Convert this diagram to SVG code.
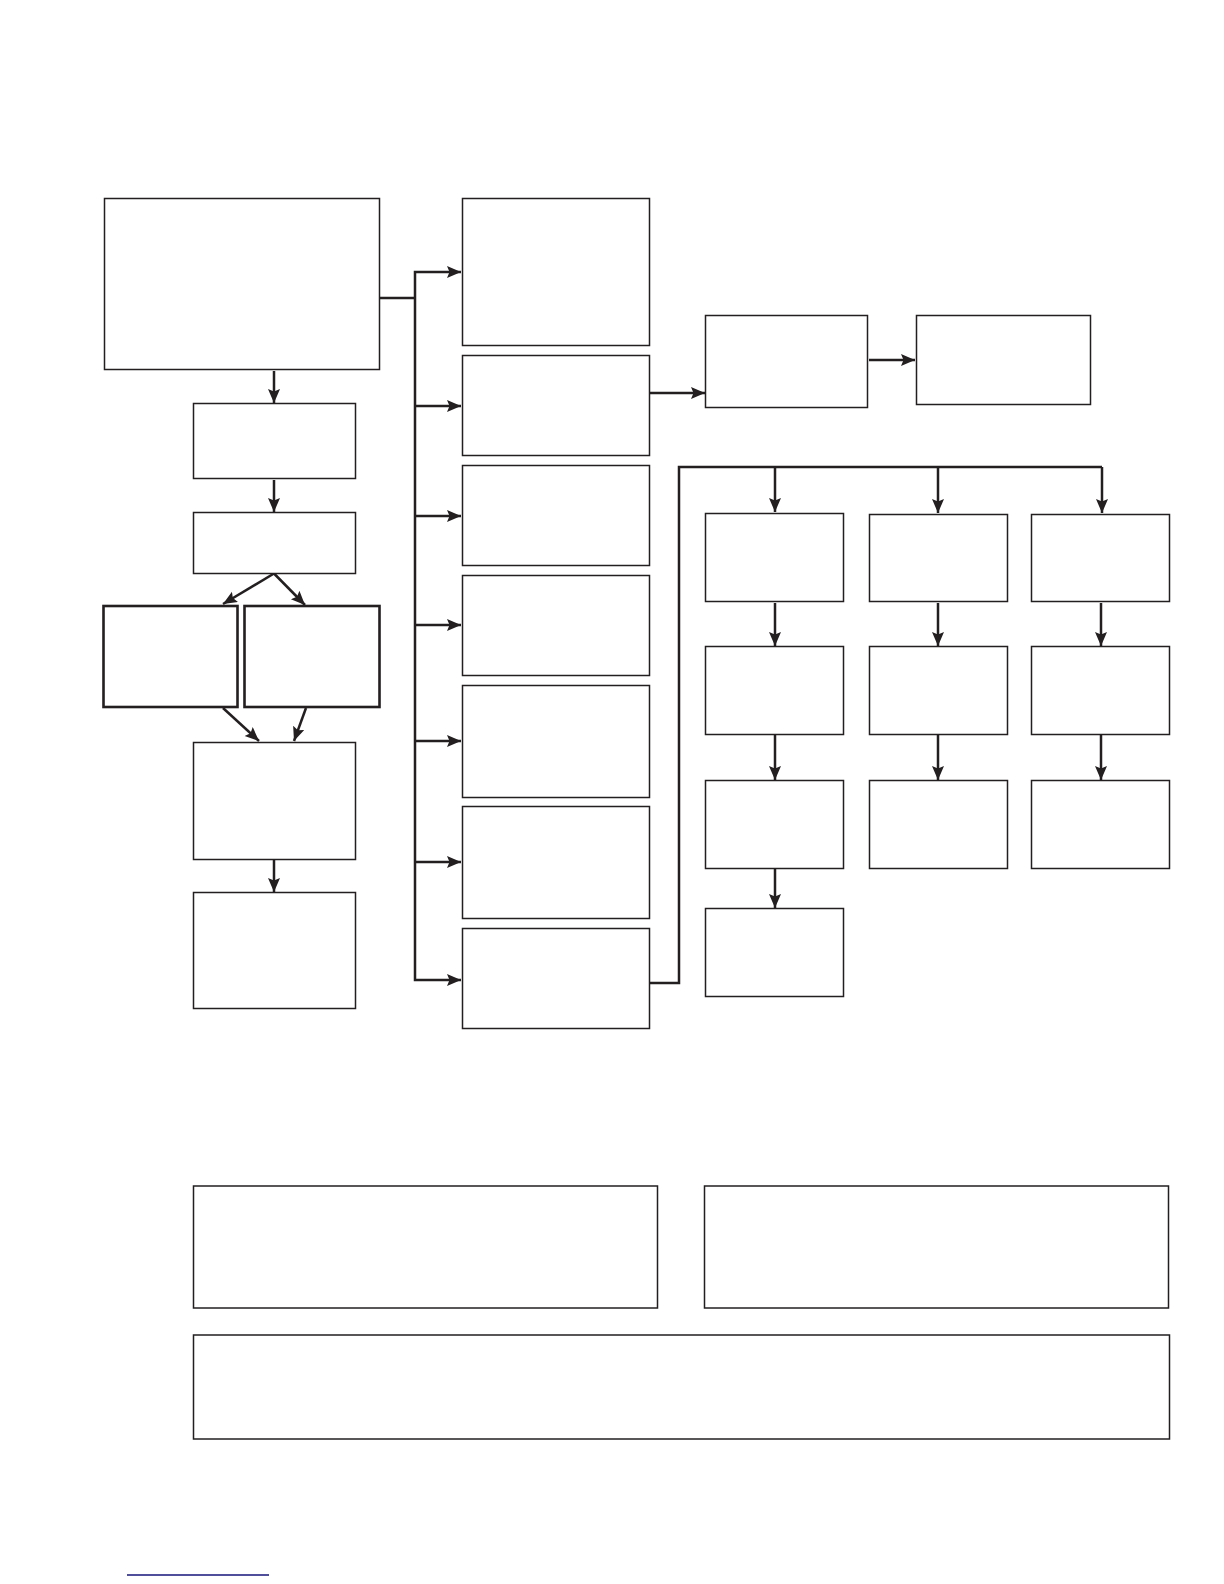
<svg xmlns="http://www.w3.org/2000/svg" width="1224" height="1584" viewBox="0 0 1224 1584">
<style>
.box{fill:#fff;stroke:#231f20;stroke-width:1.5}
.thick{stroke-width:2.6}
.c{fill:none;stroke:#231f20;stroke-width:2.5}
.a{marker-end:url(#ah)}
</style>
<defs>
<marker id="ah" markerUnits="userSpaceOnUse" markerWidth="16" markerHeight="14" refX="14" refY="6" orient="auto">
<path d="M0,0 L14,6 L0,12 L2.5,6 z" fill="#231f20"/>
</marker>
</defs>
<rect width="1224" height="1584" fill="#fff"/>
<g id="connectors">
<line class="c a" x1="274" y1="371" x2="274" y2="403"/>
<line class="c a" x1="274" y1="480" x2="274" y2="512"/>
<line class="c a" x1="274" y1="573.5" x2="223" y2="604"/>
<line class="c a" x1="274" y1="573.5" x2="305" y2="605"/>
<line class="c a" x1="223" y1="708" x2="259" y2="741"/>
<line class="c a" x1="306" y1="708" x2="294" y2="741"/>
<line class="c a" x1="274" y1="860" x2="274" y2="892"/>
<polyline class="c" points="380,298 415,298"/>
<polyline class="c a" points="415,298 415,272 461,272"/>
<polyline class="c a" points="415,298 415,980 461,980"/>
<line class="c a" x1="415" y1="406" x2="461" y2="406"/>
<line class="c a" x1="415" y1="516" x2="461" y2="516"/>
<line class="c a" x1="415" y1="625" x2="461" y2="625"/>
<line class="c a" x1="415" y1="741" x2="461" y2="741"/>
<line class="c a" x1="415" y1="862" x2="461" y2="862"/>
<line class="c a" x1="650" y1="393" x2="705" y2="393"/>
<line class="c a" x1="869" y1="360" x2="915" y2="360"/>
<polyline class="c" points="650,983 679,983 679,467 1102,467"/>
<line class="c a" x1="775" y1="467" x2="775" y2="512"/>
<line class="c a" x1="938" y1="467" x2="938" y2="513"/>
<line class="c a" x1="1102" y1="467" x2="1102" y2="513"/>
<line class="c a" x1="775" y1="603" x2="775" y2="646"/>
<line class="c a" x1="775" y1="735" x2="775" y2="780"/>
<line class="c a" x1="775" y1="866" x2="775" y2="908"/>
<line class="c a" x1="938" y1="603" x2="938" y2="646"/>
<line class="c a" x1="938" y1="735" x2="938" y2="780"/>
<line class="c a" x1="1101" y1="603" x2="1101" y2="646"/>
<line class="c a" x1="1101" y1="735" x2="1101" y2="780"/>
</g>
<g id="n_main"><rect class="box" x="104.5" y="198.5" width="275" height="171"/></g>
<g id="n_a"><rect class="box" x="193.5" y="403.5" width="162" height="75"/></g>
<g id="n_b"><rect class="box" x="193.5" y="512.5" width="162" height="61"/></g>
<g id="n_c"><rect class="box thick" x="103.5" y="606" width="134" height="101"/></g>
<g id="n_d"><rect class="box thick" x="244.5" y="606" width="135" height="101"/></g>
<g id="n_e"><rect class="box" x="193.5" y="742.5" width="162" height="117"/></g>
<g id="n_f"><rect class="box" x="193.5" y="892.5" width="162" height="116"/></g>
<g id="n_m1"><rect class="box" x="462.5" y="198.5" width="187" height="147"/></g>
<g id="n_m2"><rect class="box" x="462.5" y="355.5" width="187" height="100"/></g>
<g id="n_m3"><rect class="box" x="462.5" y="465.5" width="187" height="100"/></g>
<g id="n_m4"><rect class="box" x="462.5" y="575.5" width="187" height="100"/></g>
<g id="n_m5"><rect class="box" x="462.5" y="685.5" width="187" height="112"/></g>
<g id="n_m6"><rect class="box" x="462.5" y="806.5" width="187" height="112"/></g>
<g id="n_m7"><rect class="box" x="462.5" y="928.5" width="187" height="100"/></g>
<g id="n_r1"><rect class="box" x="705.5" y="315.5" width="162" height="92"/></g>
<g id="n_r2"><rect class="box" x="916.5" y="315.5" width="174" height="89"/></g>
<g id="n_g11"><rect class="box" x="705.5" y="513.5" width="138" height="88"/></g>
<g id="n_g12"><rect class="box" x="705.5" y="646.5" width="138" height="88"/></g>
<g id="n_g13"><rect class="box" x="705.5" y="780.5" width="138" height="88"/></g>
<g id="n_g14"><rect class="box" x="705.5" y="908.5" width="138" height="88"/></g>
<g id="n_g21"><rect class="box" x="869.5" y="514.5" width="138" height="87"/></g>
<g id="n_g22"><rect class="box" x="869.5" y="646.5" width="138" height="88"/></g>
<g id="n_g23"><rect class="box" x="869.5" y="780.5" width="138" height="88"/></g>
<g id="n_g31"><rect class="box" x="1031.5" y="514.5" width="138" height="87"/></g>
<g id="n_g32"><rect class="box" x="1031.5" y="646.5" width="138" height="88"/></g>
<g id="n_g33"><rect class="box" x="1031.5" y="780.5" width="138" height="88"/></g>
<g id="n_b1"><rect class="box" x="193.5" y="1186" width="464" height="122"/></g>
<g id="n_b2"><rect class="box" x="704.5" y="1186" width="464" height="122"/></g>
<g id="n_b3"><rect class="box" x="193.5" y="1335" width="976" height="104"/></g>
<line x1="127" y1="1575" x2="269" y2="1575" stroke="#14147a" stroke-width="1.5"/>
</svg>
